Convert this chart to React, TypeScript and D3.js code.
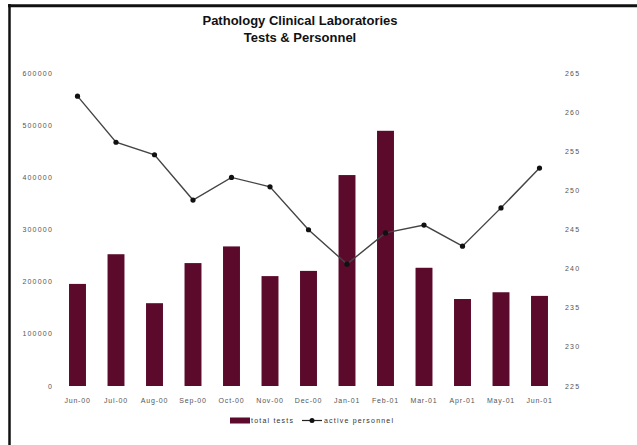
import React from "react";
import * as d3 from "d3";

const months = ["Jun-00","Jul-00","Aug-00","Sep-00","Oct-00","Nov-00","Dec-00","Jan-01","Feb-01","Mar-01","Apr-01","May-01","Jun-01"];
const totalTests = [196000, 253000, 159000, 236000, 268000, 211000, 221000, 405000, 490000, 227000, 167000, 180000, 173000];
const activePersonnel = [262.1, 256.2, 254.6, 248.8, 251.7, 250.5, 245.0, 240.6, 244.6, 245.6, 242.9, 247.8, 252.9];
const leftTicks = [0, 100000, 200000, 300000, 400000, 500000, 600000];
const rightTicks = [225, 230, 235, 240, 245, 250, 255, 260, 265];
const titleLines = ["Pathology Clinical Laboratories", "Tests & Personnel"];
const legendLabels = ["total tests", "active personnel"];

const W = 637, H = 445;
const BAR = "#5b0a2c";

export default function App() {
  const x = d3.scalePoint<string>().domain(months).range([77.5, 539.5]);
  const step = x.step();
  const bw = step * 0.44;
  const yL = d3.scaleLinear().domain([0, 600000]).range([386, 73.5]);
  const yR = d3.scaleLinear().domain([225, 265]).range([386, 73.5]);
  const line = d3.line<number>().x((_, i) => x(months[i]) as number).y(d => yR(d));
  const tickFont: React.CSSProperties = { fontFamily: "Liberation Sans, Arial, sans-serif", fontSize: 7, fill: "#555", letterSpacing: 1.2 };

  return (
    <svg width={W} height={H} style={{ position: "absolute", left: 0, top: 0, background: "#fff" }}>
      <rect x={0} y={0} width={W} height={H} fill="#fff" />
      {/* frame */}
      <line x1={9.5} y1={4} x2={9.5} y2={H} stroke="#111" strokeWidth={2.5} />
      <line x1={8} y1={5.8} x2={W} y2={5.8} stroke="#111" strokeWidth={3} />
      {/* title */}
      {titleLines.map((t, i) => (
        <text key={t} x={300} y={25 + i * 17} textAnchor="middle"
          style={{ fontFamily: "Liberation Sans, Arial, sans-serif", fontWeight: "bold", fontSize: 13, fill: "#111" }}>{t}</text>
      ))}
      {/* left axis labels */}
      {leftTicks.map(t => (
        <text key={"l" + t} x={53} y={yL(t) + 2.5} textAnchor="end" style={tickFont}>{String(t)}</text>
      ))}
      {/* right axis labels */}
      {rightTicks.map(t => (
        <text key={"r" + t} x={565} y={yR(t) + 2.5} textAnchor="start" style={tickFont}>{String(t)}</text>
      ))}
      {/* bars */}
      {totalTests.map((v, i) => (
        <rect key={"b" + i} x={(x(months[i]) as number) - bw / 2} y={yL(v)} width={bw} height={yL(0) - yL(v)} fill={BAR} />
      ))}
      {/* x labels */}
      {months.map(m => (
        <text key={"x" + m} x={x(m) as number} y={403} textAnchor="middle" style={{ ...tickFont, letterSpacing: 0.8 }}>{m}</text>
      ))}
      {/* line */}
      <path d={line(activePersonnel) || ""} fill="none" stroke="#444" strokeWidth={1.4} />
      {activePersonnel.map((v, i) => (
        <circle key={"p" + i} cx={x(months[i]) as number} cy={yR(v)} r={2.6} fill="#111" />
      ))}
      {/* legend */}
      <rect x={230} y={417.5} width={20} height={6} fill={BAR} />
      <text x={251} y={423} style={{ ...tickFont, fill: "#333" }}>{legendLabels[0]}</text>
      <line x1={302} y1={420.5} x2={322} y2={420.5} stroke="#222" strokeWidth={1.2} />
      <circle cx={312} cy={420.5} r={2.5} fill="#111" />
      <text x={324} y={423} style={{ ...tickFont, fill: "#333" }}>{legendLabels[1]}</text>
    </svg>
  );
}
